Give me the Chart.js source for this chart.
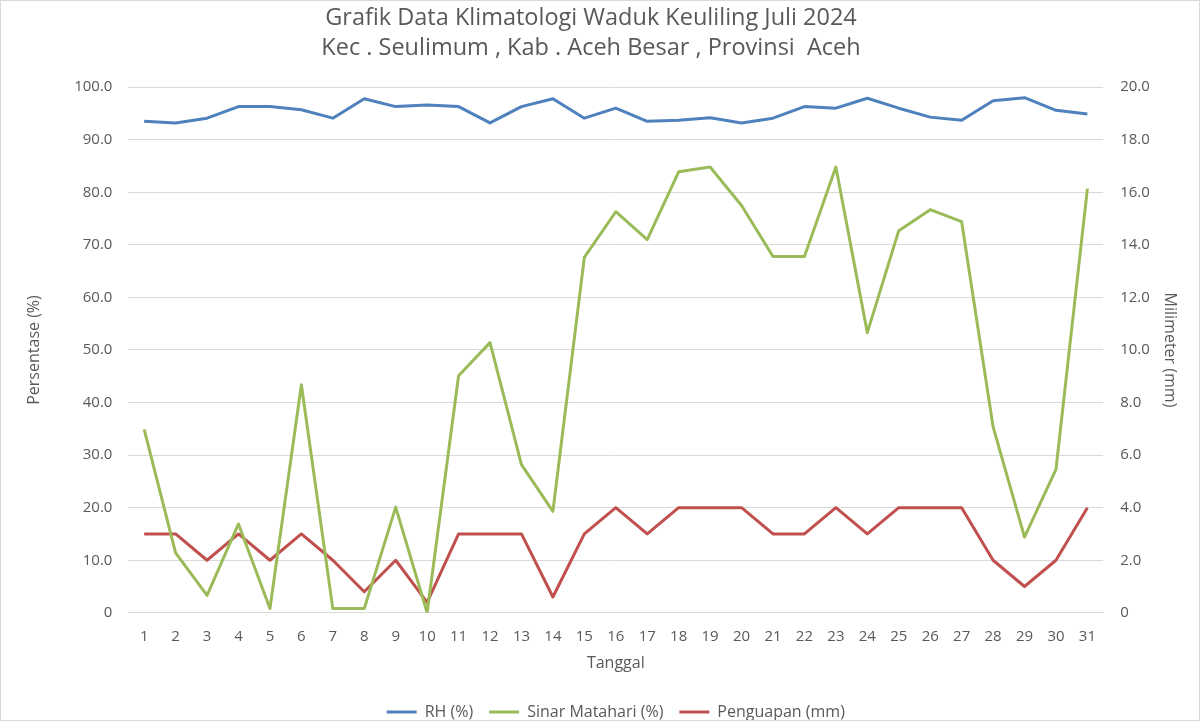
<!DOCTYPE html>
<html lang="id">
<head>
<meta charset="UTF-8">
<title>Grafik Data Klimatologi Waduk Keuliling Juli 2024</title>
<script src="https://cdn.jsdelivr.net/npm/chart.js"></script>
<style>
  html, body { margin: 0; padding: 0; background: #fff; }
  .wrap { width: 1200px; height: 721px; box-sizing: border-box; border: 1px solid #d9d9d9; }
  canvas { display: block; }
</style>
</head>
<body>
<div class="wrap">
  <canvas id="chart" width="1198" height="719"></canvas>
</div>
<script>
  // tanggal 1..31 Juli 2024
  const days = ['1','2','3','4','5','6','7','8','9','10','11','12','13','14','15','16',
                '17','18','19','20','21','22','23','24','25','26','27','28','29','30','31']

  // kelembaban relatif (%)
  const rh = [93.5, 93.2, 94.1, 96.3, 96.3, 95.7, 94.1, 97.8, 96.3, 96.6, 96.3, 93.2, 96.3, 97.8, 94.1, 96.0,
              93.5, 93.7, 94.2, 93.2, 94.1, 96.3, 96.0, 97.9, 96.0, 94.3, 93.7, 97.4, 98.0, 95.6, 94.9]

  // lama penyinaran matahari (%)
  const sinar = [34.9, 11.4, 3.3, 16.9, 0.8, 43.4, 0.8, 0.8, 20.1, 0, 45.1, 51.4, 28.2, 19.3, 67.6, 76.3,
                 71.0, 83.9, 84.8, 77.5, 67.8, 67.8, 84.8, 53.3, 72.7, 76.7, 74.4, 35.4, 14.4, 27.3, 80.7]

  // penguapan (mm)
  const penguapan = [3.0, 3.0, 2.0, 3.0, 2.0, 3.0, 2.0, 0.8, 2.0, 0.4, 3.0, 3.0, 3.0, 0.6, 3.0, 4.0,
                     3.0, 4.0, 4.0, 4.0, 3.0, 3.0, 4.0, 3.0, 4.0, 4.0, 4.0, 2.0, 1.0, 2.0, 4.0]

  const titleLines = ['Grafik Data Klimatologi Waduk Keuliling Juli 2024',
                      'Kec . Seulimum , Kab . Aceh Besar , Provinsi  Aceh']

  const grey = '#595959'
  const font = "'Open Sans', 'Noto Sans', sans-serif"

  const fmt = (v) => v === 0 ? '0' : Number(v).toFixed(1)

  const ctx = document.getElementById('chart').getContext('2d')
  new Chart(ctx, {
    type: 'line',
    data: {
      labels: days,
      datasets: [
        { label: 'RH (%)', data: rh, borderColor: '#4f81bd', backgroundColor: '#4f81bd', borderWidth: 3, yAxisID: 'y' },
        { label: 'Sinar Matahari (%)', data: sinar, borderColor: '#9bbb59', backgroundColor: '#9bbb59', borderWidth: 3, yAxisID: 'y' },
        { label: 'Penguapan (mm)', data: penguapan, borderColor: '#c0504d', backgroundColor: '#c0504d', borderWidth: 3, yAxisID: 'y1' }
      ]
    },
    options: {
      responsive: false,
      animation: false,
      events: [],
      elements: {
        line: { borderWidth: 3, tension: 0, borderJoinStyle: 'round' },
        point: { radius: 0 }
      },
      // judul agak ke kiri seperti di aslinya
      layout: { padding: { left: 0, right: 18, top: 0, bottom: -10 } },
      scales: {
        x: {
          offset: true,
          grid: { display: false, drawTicks: false },
          border: { color: '#d9d9d9' },
          ticks: { color: grey, font: { family: font, size: 15 }, padding: 15, maxRotation: 0, autoSkip: false },
          title: { display: true, text: 'Tanggal', color: grey, font: { family: font, size: 16, lineHeight: 1.2 }, padding: { top: -7, bottom: 15 } }
        },
        y: {
          position: 'left',
          min: 0, max: 100,
          grid: { color: '#d9d9d9', drawTicks: false },
          border: { display: false },
          ticks: { stepSize: 10, color: grey, font: { family: font, size: 15 }, padding: 16, callback: fmt },
          title: { display: true, text: 'Persentase (%)', color: grey, font: { family: font, size: 16, lineHeight: 1.2 }, padding: { top: 24, bottom: 14 } }
        },
        y1: {
          position: 'right',
          min: 0, max: 20,
          grid: { display: false, drawTicks: false },
          border: { display: false },
          ticks: { stepSize: 2, color: grey, font: { family: font, size: 15 }, padding: 17, callback: fmt },
          title: { display: true, text: 'Milimeter (mm)', color: grey, font: { family: font, size: 16, lineHeight: 1.2 }, padding: { top: 2, bottom: -7 } }
        }
      },
      plugins: {
        title: {
          display: true,
          text: titleLines,
          color: grey,
          font: { family: font, size: 23.5, weight: 'normal', lineHeight: 1.28 },
          padding: { top: 2, bottom: 24 }
        },
        legend: {
          position: 'bottom',
          fullSize: false,
          labels: {
            usePointStyle: true,
            pointStyleWidth: 30,
            pointStyle: 'line',
            color: grey,
            font: { family: font, size: 16 },
            padding: 16
          }
        },
        tooltip: { enabled: false }
      }
    }
  })
</script>
</body>
</html>
